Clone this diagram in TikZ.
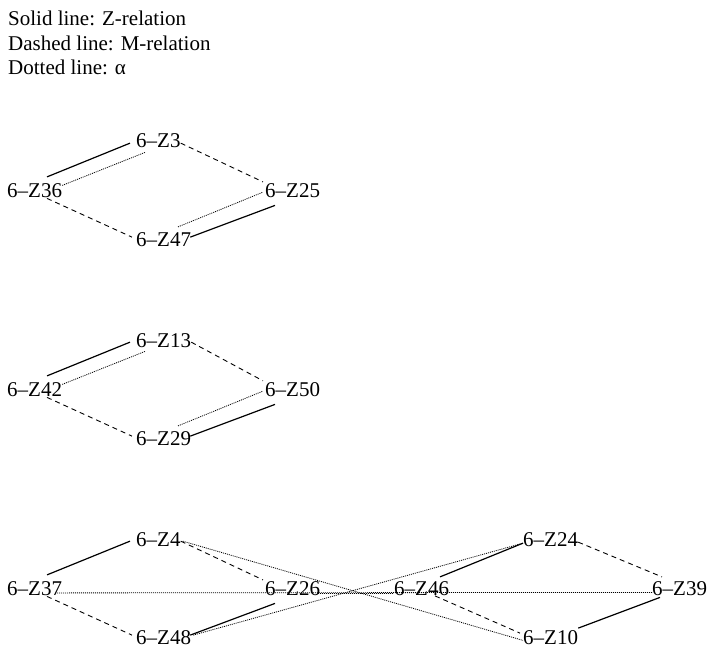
\documentclass[tikz,border=0pt]{standalone}
\usepackage{fontspec}
\setmainfont{Liberation Serif}
\usepackage{tikz}

\begin{document}
\begin{tikzpicture}[
  x=1pt, y=-1pt,
  lbl/.style={inner sep=0pt, anchor=base west, font=\fontsize{21}{25}\selectfont},
  zrel/.style={line width=1.2pt},
  mrel/.style={line width=0.9pt, dash pattern=on 5pt off 4pt},
  arel/.style={line width=0.8pt, dash pattern=on 1pt off 1pt},
]
\useasboundingbox (0,0) rectangle (719,660);
% legend
\node[lbl] (key1) at (8,26) {Solid line: Z-relation};
\node[lbl] (key2) at (8,50.5) {Dashed line: M-relation};
\node[lbl] (key3) at (8,75) {Dotted line: α};

% first diamond
\node[lbl] (z36) at (7,197.5) {6–Z36};
\node[lbl] (z3) at (136,148) {6–Z3};
\node[lbl] (z25) at (265,197.5) {6–Z25};
\node[lbl] (z47) at (136,246.5) {6–Z47};
\draw[zrel] ([shift={(40,-6.5)}]z36.north west) -- ([shift={(-6,2)}]z3.west);
\draw[arel] ([shift={(0,2)}]z36.north east) -- ([shift={(9,4)}]z3.south west);
\draw[mrel] ([shift={(0,2)}]z3.east) -- ([shift={(-2,-1.5)}]z25.north west);
\draw[mrel] ([shift={(40,0.5)}]z36.south west) -- ([shift={(-4,-2.5)}]z47.west);
\draw[arel] ([shift={(42,-5.5)}]z47.north west) -- ([shift={(-2,1.5)}]z25.west);
\draw[zrel] ([shift={(-1,-2.5)}]z47.east) -- ([shift={(10,7.5)}]z25.south west);

% second diamond
\node[lbl] (z42) at (7,396.5) {6–Z42};
\node[lbl] (z13) at (136,347) {6–Z13};
\node[lbl] (z50) at (265,396.5) {6–Z50};
\node[lbl] (z29) at (136,445.5) {6–Z29};
\draw[zrel] ([shift={(40,-6.5)}]z42.north west) -- ([shift={(-6,2)}]z13.west);
\draw[arel] ([shift={(0,2)}]z42.north east) -- ([shift={(9,4)}]z13.south west);
\draw[mrel] ([shift={(0,2)}]z13.east) -- ([shift={(-2,-1.5)}]z50.north west);
\draw[mrel] ([shift={(40,0.5)}]z42.south west) -- ([shift={(-4,-2.5)}]z29.west);
\draw[arel] ([shift={(42,-5.5)}]z29.north west) -- ([shift={(-2,1.5)}]z50.west);
\draw[zrel] ([shift={(-1,-2.5)}]z29.east) -- ([shift={(10,7.5)}]z50.south west);

% third cluster
\node[lbl] (z37) at (7,595.5) {6–Z37};
\node[lbl] (z4) at (136,546) {6–Z4};
\node[lbl] (z48) at (136,644.5) {6–Z48};
\node[lbl] (z26) at (265,595.5) {6–Z26};
\node[lbl] (z46) at (394,595.5) {6–Z46};
\node[lbl] (z24) at (523,546) {6–Z24};
\node[lbl] (z10) at (523,644.5) {6–Z10};
\node[lbl] (z39) at (652,595.5) {6–Z39};
\draw[zrel] ([shift={(40,-6.5)}]z37.north west) -- ([shift={(-6,2)}]z4.west);
\draw[mrel] ([shift={(40,0.5)}]z37.south west) -- ([shift={(-4,-2.5)}]z48.west);
\draw[mrel] ([shift={(0,2)}]z4.east) -- ([shift={(-2,-1.5)}]z26.north west);
\draw[zrel] ([shift={(-1,-2.5)}]z48.east) -- ([shift={(10,7.5)}]z26.south west);
\draw[zrel] ([shift={(46,-4.5)}]z46.north west) -- ([shift={(0,4)}]z24.west);
\draw[mrel] ([shift={(41,0)}]z46.south west) -- ([shift={(-3,-4.5)}]z10.west);
\draw[mrel] ([shift={(0,3)}]z24.east) -- ([shift={(10,-4.5)}]z39.north west);
\draw[zrel] ([shift={(0,-9.5)}]z10.east) -- ([shift={(8,1.5)}]z39.south west);
\draw[arel] ([shift={(-7,-3)}]z37.south east) -- ([shift={(0,-3.5)}]z39.south west);
\draw[arel] ([shift={(-2,-3)}]z26.south east) -- ([shift={(0,-3)}]z46.south west);
\draw[arel] ([shift={(2,2)}]z4.east) -- ([shift={(0,-4.5)}]z10.south west);
\draw[arel] ([shift={(2,-2.5)}]z48.east) -- ([shift={(0,4)}]z24.west);
\end{tikzpicture}
\end{document}
